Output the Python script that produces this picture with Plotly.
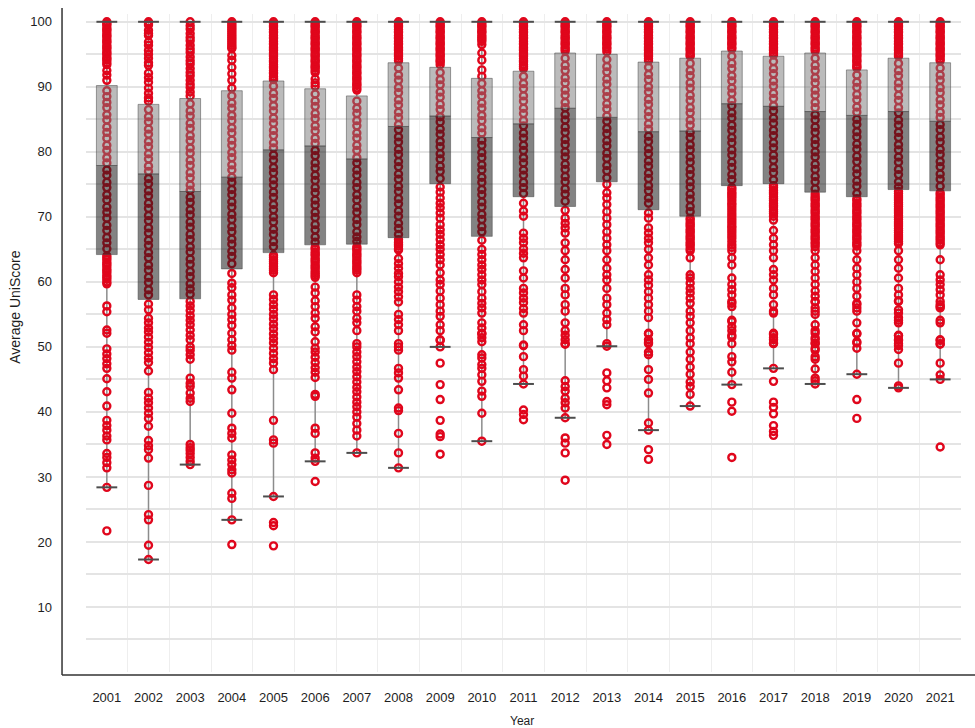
import plotly.graph_objects as go

# ---- data -----------------------------------------------------------------
YEARS = [str(y) for y in range(2001, 2022)]

Q1 = [64.2, 57.3, 57.4, 62.0, 64.5, 65.7, 65.8, 66.8, 75.1, 67.0, 73.1,
      71.6, 75.4, 71.1, 70.1, 74.8, 75.1, 73.8, 73.1, 74.2, 74.0]
MEDIAN = [77.9, 76.6, 73.9, 76.1, 80.3, 80.9, 78.9, 83.9, 85.5, 82.2, 84.3,
          86.7, 85.3, 83.1, 83.2, 87.4, 87.0, 86.2, 85.6, 86.2, 84.7]
Q3 = [90.2, 87.3, 88.2, 89.4, 90.9, 89.7, 88.6, 93.7, 93.0, 91.3, 92.4,
      95.2, 95.0, 93.8, 94.4, 95.5, 94.7, 95.2, 92.6, 94.4, 93.7]
WHISKER_LOW = [28.4, 17.3, 31.9, 23.4, 27.0, 32.4, 33.7, 31.4, 50.0, 35.5, 44.3,
               39.1, 50.1, 37.2, 40.9, 44.2, 46.7, 44.3, 45.8, 43.7, 45.0]
WHISKER_HIGH = [100] * 21

SCORES_2001 = [100, 99.7, 99.5, 99.1, 98.8, 98.6, 98.2, 97.9, 97.7, 97.3, 97.0, 96.8, 96.4, 96.1,
               95.9, 95.5, 95.2, 95.0, 94.6, 94.3, 94.1, 93.7, 93.4, 92.5, 91.8, 91.0,
               89.4, 88.5, 87.6, 86.8, 85.7, 84.9, 83.8, 83.0, 82.1, 81.0, 80.2, 79.1, 78.3, 77.2,
               76.4, 75.3, 74.5, 73.4, 72.6, 71.5, 70.7, 69.8, 68.7, 67.9, 66.8, 66.0, 65.1,
               64.0, 63.7, 63.4, 63.0, 62.7, 62.4, 62.0, 61.7, 61.4, 61.0, 60.7, 60.4, 60.0, 59.7,
               56.3, 55.4, 52.6, 52.1, 49.7, 48.9, 48.2, 47.4, 46.7, 45.1, 43.1, 40.9, 38.7, 37.9,
               37.2, 36.3, 35.7, 33.6, 33.0, 32.2, 31.4, 28.4, 21.7]
SCORES_2002 = [100, 99.8, 99.5, 98.7, 98.2, 97.9, 96.9, 96.4, 95.6, 95.0, 94.4, 93.7, 93.3, 92.1,
               91.4, 90.7, 89.8, 89.0, 88.3, 87.8, 86.5, 85.4, 84.6, 83.5, 82.7, 81.6, 80.8, 79.7,
               78.9, 77.8, 77.0, 75.9, 75.1, 74.0, 73.2, 72.1, 71.3, 70.2, 69.4, 68.3, 67.5, 66.4,
               65.6, 64.5, 63.7, 62.6, 61.8, 60.7, 59.9, 58.8, 58.0, 56.6, 55.7, 54.4, 53.7, 52.9,
               52.3, 51.5, 50.7, 49.9, 49.1, 48.3, 47.6, 46.3, 43.0, 42.1, 41.4, 40.6, 39.8, 39.0,
               37.8, 35.6, 34.8, 34.2, 32.9, 28.7, 24.2, 23.4, 19.5, 17.3]
SCORES_2003 = [100, 99.4, 98.9, 98.2, 97.6, 97.1, 96.4, 95.8, 95.3, 94.6, 94.0, 93.5, 92.8, 92.2,
               91.7, 91.0, 90.4, 89.9, 89.2, 88.6, 87.4, 86.3, 85.5, 84.4, 83.6, 82.5, 81.7, 80.6,
               79.8, 78.7, 77.9, 76.8, 76.0, 74.9, 74.1, 73.0, 72.2, 71.1, 70.3, 69.2, 68.4, 67.3,
               66.5, 65.4, 64.6, 63.5, 62.7, 61.6, 60.8, 59.7, 58.9, 58.1, 57.0, 56.3, 55.6, 54.8,
               54.1, 53.4, 52.6, 51.8, 51.1, 50.0, 49.5, 48.8, 48.1, 45.2, 44.4, 43.9, 42.9, 42.1,
               41.6, 35.0, 34.5, 34.1, 33.6, 33.0, 32.4, 31.9]
SCORES_2004 = [100, 99.7, 99.4, 99.1, 98.8, 98.5, 98.2, 97.9, 97.6, 97.3, 97.0, 96.7, 96.4, 96.1,
               95.9, 94.8, 94.1, 93.0, 92.0, 91.0, 89.8,
               88.6, 87.5, 86.7, 85.6, 84.8, 83.7, 82.9, 81.8, 81.0, 79.9, 79.1, 78.0, 77.2,
               76.1, 75.3, 74.2, 73.4, 72.3, 71.5, 70.4, 69.6, 68.5, 67.7, 66.6, 65.8, 64.7, 63.9,
               62.8, 61.3, 59.8, 59.1, 58.0, 57.2, 56.0, 55.0, 54.2, 53.3, 52.1, 51.1, 50.2, 49.5,
               46.1, 45.2, 43.4, 39.8, 37.5, 36.7, 36.0, 33.4, 32.6, 31.9, 31.1, 30.6, 27.5, 26.7,
               23.4, 19.6]
SCORES_2005 = [100, 99.7, 99.4, 99.2, 98.8, 98.5, 98.3, 97.9, 97.6, 97.4, 97.0, 96.7, 96.5, 96.1,
               95.8, 95.6, 95.2, 94.9, 94.7, 94.3, 94.0, 93.8, 93.4, 93.1, 92.9, 92.5, 92.2, 92.0,
               91.6, 91.3, 91.1,
               90.1, 89.0, 88.2, 87.1, 86.3, 85.2, 84.4, 83.3, 82.5, 81.4, 80.6, 79.5, 78.7, 77.6,
               76.8, 75.7, 74.9, 73.8, 73.0, 71.9, 71.1, 70.0, 69.2, 68.1, 67.3, 66.2, 65.4,
               64.1, 63.8, 63.4, 63.1, 62.8, 62.4, 62.1, 61.8, 61.4,
               58.0, 57.3, 56.5, 55.8, 55.0, 54.3, 53.5, 52.8, 52.0, 51.3, 50.6, 49.8, 49.0, 48.2,
               47.5, 46.5, 38.7, 35.7, 35.2, 27.0, 23.0, 22.5, 19.4]
SCORES_2006 = [100, 99.7, 99.4, 99.2, 98.8, 98.5, 98.3, 97.9, 97.6, 97.4, 97.0, 96.7, 96.5, 96.1,
               95.8, 95.6, 95.2, 94.9, 94.7, 94.3, 94.0, 93.8, 93.4, 93.1, 92.9, 92.5, 92.2,
               91.2, 90.6, 90.1,
               88.9, 87.8, 87.0, 85.9, 85.1, 84.0, 83.2, 82.1, 81.3, 80.2, 79.4, 78.3, 77.5, 76.4,
               75.6, 74.5, 73.7, 72.6, 71.8, 70.7, 69.9, 68.8, 68.0, 66.9, 66.1,
               65.3, 65.0, 64.6, 64.3, 64.0, 63.6, 63.3, 63.0, 62.6, 62.3, 62.0, 61.6, 61.3, 61.0,
               60.7, 59.2, 58.3, 57.1, 56.2, 55.2, 54.4, 53.1, 52.3, 50.8, 49.8, 49.2, 48.4, 47.6,
               46.8, 46.1, 45.3, 42.7, 42.4, 37.5, 36.7, 33.7, 32.9, 32.4, 29.3]
SCORES_2007 = [100, 99.7, 99.4, 99.2, 98.8, 98.5, 98.3, 97.9, 97.6, 97.4, 97.0, 96.7, 96.5, 96.1,
               95.8, 95.6, 95.2, 94.9, 94.7, 94.3, 94.0, 93.8, 93.4, 93.1, 92.9, 92.5, 92.2, 92.0,
               91.6, 91.3, 91.1, 90.7, 90.4, 90.2, 89.8, 89.5,
               87.8, 86.7, 85.9, 84.8, 84.0, 82.9, 82.1, 81.0, 80.2, 79.1, 78.3, 77.2, 76.4, 75.3,
               74.5, 73.4, 72.6, 71.5, 70.7, 69.6, 68.8, 67.7, 66.9, 66.2,
               65.4, 65.1, 64.8, 64.4, 64.1, 63.8, 63.4, 63.1, 62.8, 62.4, 62.1, 61.8, 61.4,
               58.0, 57.2, 56.2, 55.5, 54.4, 53.7, 52.5, 50.5, 50.0, 49.2, 48.5, 47.7, 46.9, 46.2,
               45.4, 44.6, 43.8, 43.1, 42.3, 41.5, 40.8, 40.0, 39.2, 38.2, 37.2, 36.3, 33.7]
SCORES_2008 = [100, 99.7, 99.4, 99.2, 98.8, 98.5, 98.3, 97.9, 97.6, 97.4, 97.0, 96.7, 96.5, 96.1,
               95.8, 95.6, 95.2, 94.9, 94.7, 94.3, 94.0,
               92.9, 91.8, 91.0, 89.9, 89.1, 88.0, 87.2, 86.1, 85.3, 84.2, 83.4, 82.3, 81.5, 80.4,
               79.6, 78.5, 77.7, 76.6, 75.8, 74.7, 73.9, 72.8, 72.0, 70.9, 70.1, 69.0, 68.2, 67.3,
               66.5, 66.1, 65.8, 65.5, 65.1, 64.9,
               63.6, 62.8, 62.1, 61.3, 60.8, 60.0, 59.2, 58.5, 57.7, 56.9, 55.0, 54.2, 53.4, 52.5,
               50.5, 50.0, 49.5, 46.7, 46.0, 45.2, 43.4, 40.6, 40.2, 36.7, 33.7, 31.4]
SCORES_2009 = [100, 99.7, 99.4, 99.2, 98.8, 98.5, 98.3, 97.9, 97.6, 97.4, 97.0, 96.7, 96.5, 96.1,
               95.8, 95.6, 95.2, 94.9, 94.7, 94.3, 94.0, 93.8, 93.4,
               92.2, 91.1, 90.3, 89.2, 88.4, 87.3, 86.5, 85.4, 84.6, 83.5, 82.7, 81.6, 80.8, 79.7,
               78.9, 77.8, 77.0, 75.9,
               74.6, 73.8, 72.9, 72.1, 71.4, 70.6, 69.8, 68.8, 68.0, 67.3, 66.5, 65.7, 65.0, 64.2,
               63.4, 62.6, 61.4, 60.3, 59.6, 58.6, 57.5, 56.5, 55.5, 54.7, 53.4, 52.5, 51.1, 51.0,
               50.0, 47.5, 44.2, 41.9, 38.7, 36.6, 36.2, 33.5]
SCORES_2010 = [100, 99.7, 99.4, 99.2, 98.8, 98.5, 98.3, 97.9, 97.6, 97.3, 97.0, 96.5, 95.2, 94.1,
               92.6, 91.6,
               90.5, 89.4, 88.6, 87.5, 86.7, 85.6, 84.8, 83.7, 82.9, 81.8, 81.0, 79.9, 79.1, 78.0,
               77.2, 76.1, 75.3, 74.2, 73.4, 72.3, 71.5, 70.4, 69.6, 68.5, 67.7,
               66.4, 65.0, 64.2, 63.4, 62.6, 61.9, 61.1, 60.3, 59.6, 58.5, 57.5, 56.7, 56.0, 55.2,
               53.7, 52.9, 52.1, 52.0, 51.4, 50.8, 48.8, 48.3, 47.3, 46.7, 45.7, 44.7, 43.2, 42.4,
               39.8, 35.5]
SCORES_2011 = [100, 99.7, 99.4, 99.2, 98.8, 98.5, 98.3, 97.9, 97.6, 97.4, 97.0, 96.7, 96.5, 96.1,
               95.8, 95.6, 95.2, 94.9, 94.7, 94.3, 94.0, 93.8, 93.4, 93.1, 92.8,
               91.6, 90.5, 89.7, 88.6, 87.8, 86.7, 85.9, 84.8, 84.0, 82.9, 82.1, 81.0, 80.2, 79.1,
               78.3, 77.2, 76.4, 75.3, 74.5, 73.6,
               72.1, 70.9, 70.1, 67.5, 66.7, 66.0, 65.1, 64.4, 63.7, 61.7, 60.6, 59.0, 58.3, 57.5,
               56.8, 55.9, 55.2, 53.4, 52.5, 50.3, 50.2, 48.5, 46.5, 45.5, 44.3, 40.3, 39.6, 38.8]
SCORES_2012 = [100, 99.7, 99.4, 99.2, 98.8, 98.5, 98.3, 97.9, 97.6, 97.4, 97.0, 96.7, 96.5, 96.1,
               95.8, 95.5,
               94.4, 93.3, 92.5, 91.4, 90.6, 89.5, 88.7, 87.6, 86.8, 85.7, 84.9, 83.8, 83.0, 81.9,
               81.1, 80.0, 79.2, 78.1, 77.3, 76.2, 75.4, 74.3, 73.5, 72.4,
               71.0, 69.8, 69.0, 68.3, 67.5, 66.0, 64.8, 63.4, 61.9, 60.6, 59.0, 58.0, 56.5, 55.5,
               53.7, 52.5, 51.8, 51.1, 50.5, 50.4, 44.8, 43.9, 43.2, 42.1, 41.4, 40.6, 39.1, 36.0,
               35.2, 33.7, 29.5]
SCORES_2013 = [100, 99.7, 99.4, 99.2, 98.8, 98.5, 98.3, 97.9, 97.6, 97.4, 97.0, 96.7, 96.5, 96.1,
               95.8, 95.4,
               94.2, 93.1, 92.3, 91.2, 90.4, 89.3, 88.5, 87.4, 86.6, 85.5, 84.7, 83.6, 82.8, 81.7,
               80.9, 79.8, 79.0, 77.9, 77.1, 76.0,
               75.0, 73.7, 72.9, 71.9, 70.8, 69.8, 68.8, 67.7, 66.7, 65.7, 64.8, 63.4, 62.1, 61.1,
               60.3, 59.0, 57.5, 56.5, 55.2, 54.2, 53.4, 50.5, 50.1, 46.0, 44.8, 43.7, 41.6, 41.1,
               36.4, 35.0]
SCORES_2014 = [100, 99.7, 99.4, 99.2, 98.8, 98.5, 98.3, 97.9, 97.6, 97.4, 97.0, 96.7, 96.5, 96.1,
               95.8, 95.6, 95.2, 94.9, 94.7, 94.3, 94.0,
               93.0, 91.9, 91.1, 90.0, 89.2, 88.1, 87.3, 86.2, 85.4, 84.3, 83.5, 82.4, 81.6, 80.5,
               79.7, 78.6, 77.8, 76.7, 75.9, 74.8, 74.0, 72.9, 72.1,
               70.6, 69.8, 68.3, 67.5, 66.7, 66.0, 65.0, 63.7, 62.6, 61.1, 60.3, 59.5, 58.5, 57.5,
               56.5, 55.5, 54.5, 52.1, 52.0, 51.1, 50.7, 50.5, 49.2, 48.8, 46.5, 45.0, 42.9, 38.3,
               37.2, 34.2, 32.7]
SCORES_2015 = [100, 99.7, 99.4, 99.2, 98.8, 98.5, 98.3, 97.9, 97.6, 97.4, 97.0, 96.7, 96.5, 96.1,
               95.8, 95.6, 95.2, 94.9, 94.7,
               93.6, 92.5, 91.7, 90.6, 89.8, 88.7, 87.9, 86.8, 86.0, 84.9, 84.1, 83.0, 82.2, 81.1,
               80.3, 79.2, 78.4, 77.3, 76.5, 75.4, 74.6, 73.5, 72.7, 71.6, 70.8,
               69.8, 69.5, 69.1, 68.8, 68.5, 68.1, 67.8, 67.5, 67.1, 66.8, 66.5, 66.1, 65.8, 65.5,
               65.1, 64.8, 63.7, 61.1, 60.6, 59.8, 59.0, 58.3, 57.5, 56.7, 55.5, 54.7, 53.7, 52.5,
               51.4, 50.5, 49.2, 48.1, 46.9, 45.8, 44.6, 43.9, 42.7, 40.9]
SCORES_2016 = [100, 99.7, 99.4, 99.2, 98.8, 98.5, 98.3, 97.9, 97.6, 97.4, 97.0, 96.7, 96.5, 96.1,
               95.8,
               94.7, 93.6, 92.8, 91.7, 90.9, 89.8, 89.0, 87.9, 87.1, 86.0, 85.2, 84.1, 83.3, 82.2,
               81.4, 80.3, 79.5, 78.4, 77.6, 76.5, 75.7,
               74.5, 74.2, 73.8, 73.5, 73.2, 72.9, 72.5, 72.1, 71.8, 71.4, 71.0, 70.6, 70.2, 69.8,
               69.4, 69.0, 68.6, 68.3, 67.9, 67.5, 67.1, 66.7, 66.2, 65.7, 65.3, 64.8, 63.7, 62.6,
               60.6, 59.6, 58.8, 58.0, 57.0, 56.7, 56.2, 54.1, 53.9, 53.1, 52.5, 51.8, 51.5, 50.5,
               48.5, 47.7, 46.1, 44.2, 41.5, 40.1, 33.0]
SCORES_2017 = [100, 99.7, 99.4, 99.2, 98.8, 98.5, 98.3, 97.9, 97.6, 97.4, 97.0, 96.7, 96.5, 96.1,
               95.8, 95.6, 95.2, 94.9,
               93.9, 92.8, 92.0, 90.9, 90.1, 89.0, 88.2, 87.1, 86.3, 85.2, 84.4, 83.3, 82.5, 81.4,
               80.6, 79.5, 78.7, 77.6, 76.8, 75.7,
               74.8, 74.5, 74.1, 73.8, 73.5, 73.1, 72.8, 72.5, 72.1, 71.8, 71.5, 71.1, 70.8, 70.5,
               70.1, 69.5, 67.9, 66.7, 65.7, 64.8, 63.7, 61.9, 61.1, 60.3, 59.0, 58.0, 56.5, 55.5,
               55.2, 52.1, 51.9, 51.4, 51.1, 50.6, 50.5, 46.7, 44.7, 41.5, 40.7, 39.7, 37.9, 37.0,
               36.4]
SCORES_2018 = [100, 99.7, 99.4, 99.2, 98.8, 98.5, 98.3, 97.9, 97.6, 97.4, 97.0, 96.7, 96.5, 96.1,
               95.8, 95.5,
               94.4, 93.3, 92.5, 91.4, 90.6, 89.5, 88.7, 87.6, 86.8, 85.7, 84.9, 83.8, 83.0, 81.9,
               81.1, 80.0, 79.2, 78.1, 77.3, 76.2, 75.4, 74.3,
               73.5, 73.1, 72.8, 72.5, 72.1, 71.8, 71.5, 71.1, 70.8, 70.5, 70.1, 69.8, 69.5, 69.1,
               68.8, 68.5, 68.1, 67.8, 67.5, 67.1, 66.8, 66.5, 66.1, 65.8, 65.4, 64.8, 63.7, 62.6,
               61.6, 60.6, 59.6, 58.6, 57.8, 57.0, 56.9, 56.0, 55.5, 55.0, 53.4, 52.5, 52.1, 51.4,
               51.1, 50.6, 50.5, 49.8, 49.5, 48.5, 48.1, 46.6, 45.2, 44.8, 44.3]
SCORES_2019 = [100, 99.7, 99.4, 99.2, 98.8, 98.5, 98.3, 97.9, 97.6, 97.4, 97.0, 96.7, 96.5, 96.1,
               95.8, 95.6, 95.2, 94.9, 94.7, 94.3, 94.0, 93.8, 93.4, 93.1, 92.9,
               91.8, 90.7, 89.9, 88.8, 88.0, 86.9, 86.1, 85.0, 84.2, 83.1, 82.3, 81.2, 80.4, 79.3,
               78.5, 77.4, 76.6, 75.5, 74.7, 73.6,
               72.8, 72.5, 72.1, 71.8, 71.5, 71.1, 70.8, 70.5, 70.1, 69.8, 69.5, 69.1, 68.8, 68.5,
               68.1, 67.8, 67.5, 67.1, 66.8, 66.5, 66.1, 65.8, 65.5, 64.8, 63.4, 62.1, 61.1, 60.0,
               59.0, 57.8, 56.7, 56.5, 56.0, 55.5, 53.7, 52.1, 52.0, 50.8, 50.6, 49.8, 45.8, 41.9,
               39.0]
SCORES_2020 = [100, 99.7, 99.4, 99.2, 98.8, 98.5, 98.3, 97.9, 97.6, 97.4, 97.0, 96.7, 96.5, 96.1,
               95.8, 95.6, 95.2, 94.9, 94.7,
               93.6, 92.5, 91.7, 90.6, 89.8, 88.7, 87.9, 86.8, 86.0, 84.9, 84.1, 83.0, 82.2, 81.1,
               80.3, 79.2, 78.4, 77.3, 76.5, 75.4, 74.6,
               73.9, 73.6, 73.2, 72.9, 72.6, 72.2, 71.9, 71.6, 71.2, 70.9, 70.6, 70.2, 69.9, 69.6,
               69.2, 68.9, 68.6, 68.2, 67.9, 67.6, 67.2, 66.9, 66.6, 66.2, 65.9, 64.8, 63.4, 62.1,
               60.6, 59.0, 58.0, 57.1, 57.0, 55.7, 55.2, 54.5, 54.1, 53.7, 51.8, 51.7, 51.1, 51.0,
               50.5, 50.2, 49.6, 47.5, 44.0, 43.7]
SCORES_2021 = [100, 99.7, 99.4, 99.2, 98.8, 98.5, 98.3, 97.9, 97.6, 97.4, 97.0, 96.7, 96.5, 96.1,
               95.8, 95.6, 95.2, 94.9, 94.7, 94.3, 94.0,
               92.9, 91.8, 91.0, 89.9, 89.1, 88.0, 87.2, 86.1, 85.3, 84.2, 83.4, 82.3, 81.5, 80.4,
               79.6, 78.5, 77.7, 76.6, 75.8, 74.7,
               73.7, 73.4, 73.0, 72.7, 72.4, 72.0, 71.7, 71.4, 71.0, 70.7, 70.4, 70.0, 69.7, 69.4,
               69.0, 68.7, 68.4, 68.0, 67.7, 67.4, 67.0, 66.7, 66.4, 66.0, 65.7, 63.4, 61.1, 60.3,
               59.6, 58.8, 58.0, 57.0, 56.5, 56.2, 56.0, 54.1, 53.7, 51.1, 51.0, 50.5, 50.4, 47.5,
               45.7, 45.0, 34.6]

SCORES = [SCORES_2001, SCORES_2002, SCORES_2003, SCORES_2004, SCORES_2005, SCORES_2006,
          SCORES_2007, SCORES_2008, SCORES_2009, SCORES_2010, SCORES_2011, SCORES_2012,
          SCORES_2013, SCORES_2014, SCORES_2015, SCORES_2016, SCORES_2017, SCORES_2018,
          SCORES_2019, SCORES_2020, SCORES_2021]

# ---- styling --------------------------------------------------------------
HALF = 0.25                     # half box width in category units
RED = "#e0061c"
DARK_FILL = "rgba(30,30,30,0.55)"
LIGHT_FILL = "rgba(120,120,120,0.5)"
BOX_EDGE = "rgba(70,70,70,0.5)"
WHISKER = "#8c8c8c"
CAP = "#4d4d4d"
TEXT = "#1e1e1e"
FONT = "Liberation Sans, Arial, Helvetica, sans-serif"

positions = list(range(len(YEARS)))

# whisker stems
wx, wy = [], []
for i, lo, q1, q3, hi in zip(positions, WHISKER_LOW, Q1, Q3, WHISKER_HIGH):
    wx += [i, i, None, i, i, None]
    wy += [lo, q1, None, q3, hi, None]

# individual scores
px_, py_ = [], []
for i, vals in zip(positions, SCORES):
    px_ += [i] * len(vals)
    py_ += vals


def rects(bottoms, tops):
    xs, ys = [], []
    for i, b, t in zip(positions, bottoms, tops):
        xs += [i - HALF, i + HALF, i + HALF, i - HALF, i - HALF, None]
        ys += [b, b, t, t, b, None]
    return xs, ys


dx, dy = rects(Q1, MEDIAN)
lx, ly = rects(MEDIAN, Q3)

# whisker caps
cx, cy = [], []
for i, lo, hi in zip(positions, WHISKER_LOW, WHISKER_HIGH):
    cx += [i - HALF, i + HALF, None, i - HALF, i + HALF, None]
    cy += [lo, lo, None, hi, hi, None]

fig = go.Figure()
fig.add_trace(go.Scatter(x=wx, y=wy, mode="lines", line=dict(color=WHISKER, width=1.5),
                         hoverinfo="skip", showlegend=False))
fig.add_trace(go.Scatter(x=px_, y=py_, mode="markers",
                         marker=dict(symbol="circle-open", size=7, color=RED,
                                     line=dict(width=2.4, color=RED)),
                         showlegend=False))
fig.add_trace(go.Scatter(x=dx, y=dy, mode="lines", fill="toself", fillcolor=DARK_FILL,
                         line=dict(color=BOX_EDGE, width=1), hoverinfo="skip", showlegend=False))
fig.add_trace(go.Scatter(x=lx, y=ly, mode="lines", fill="toself", fillcolor=LIGHT_FILL,
                         line=dict(color=BOX_EDGE, width=1), hoverinfo="skip", showlegend=False))
fig.add_trace(go.Scatter(x=cx, y=cy, mode="lines", line=dict(color=CAP, width=2),
                         hoverinfo="skip", showlegend=False))

fig.update_layout(
    width=975, height=728,
    margin=dict(l=86, r=14, t=14, b=56),
    paper_bgcolor="white", plot_bgcolor="white",
    font=dict(family=FONT, size=13, color=TEXT),
    xaxis=dict(
        range=[-0.5, len(YEARS) - 0.5],
        tickmode="array", tickvals=positions, ticktext=YEARS,
        showgrid=False, zeroline=False, showline=False, ticks="",
        ticklabelstandoff=16,
        tickfont=dict(family=FONT, size=13, color=TEXT),
        minor=dict(tickmode="array", tickvals=[p - 0.5 for p in positions] + [len(YEARS) - 0.5],
                   showgrid=True, gridcolor="#eeeeee", gridwidth=1, ticks=""),
    ),
    yaxis=dict(
        range=[0, 101.2],
        tickmode="array", tickvals=list(range(10, 101, 10)),
        showgrid=True, gridcolor="#e4e4e4", gridwidth=1.5,
        zeroline=False, showline=False, ticks="",
        ticklabelstandoff=33,
        tickfont=dict(family=FONT, size=13, color=TEXT),
        minor=dict(tickmode="array", tickvals=list(range(5, 100, 10)),
                   showgrid=True, gridcolor="#e4e4e4", gridwidth=1.5, ticks=""),
    ),
    shapes=[
        dict(type="line", xref="paper", yref="paper", x0=-0.0274, x1=-0.0274, y0=-0.0046, y1=1.009,
             line=dict(color="#333333", width=1.5)),
        dict(type="line", xref="paper", yref="paper", x0=-0.0274, x1=1.016, y0=-0.0046, y1=-0.0046,
             line=dict(color="#333333", width=1.5)),
    ],
    annotations=[
        dict(text="Average UniScore", xref="paper", yref="paper", x=-0.0811, y=0.555,
             xanchor="center", yanchor="middle",
             textangle=-90, showarrow=False, font=dict(family=FONT, size=14, color=TEXT)),
        dict(text="Year", xref="paper", yref="paper", x=0.4985, y=-0.0745,
             xanchor="center", yanchor="middle",
             showarrow=False, font=dict(family=FONT, size=12, color=TEXT)),
    ],
)

fig.write_html("out.html")
